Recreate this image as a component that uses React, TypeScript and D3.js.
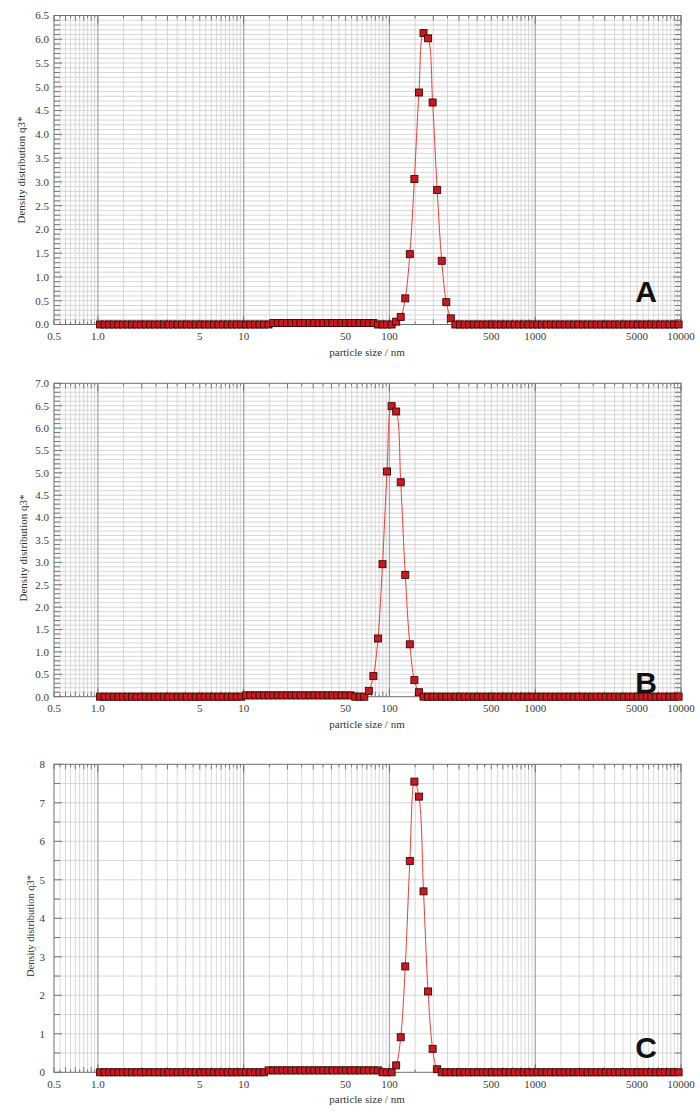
import React from "react";
import * as d3 from "d3";

// Instrument size channels (nm), 32 channels per decade
const SIZE_NM = [
  1.035, 1.112, 1.195, 1.284, 1.38, 1.483, 1.594, 1.713, 1.841, 1.978, 2.125, 2.284, 2.454, 2.638, 2.834, 3.046,
  3.273, 3.517, 3.78, 4.062, 4.365, 4.69, 5.04, 5.416, 5.82, 6.255, 6.721, 7.223, 7.761, 8.34, 8.963, 9.631,
  10.35, 11.12, 11.95, 12.84, 13.8, 14.83, 15.94, 17.13, 18.41, 19.78, 21.25, 22.84, 24.54, 26.38, 28.34, 30.46,
  32.73, 35.17, 37.8, 40.62, 43.65, 46.9, 50.4, 54.16, 58.2, 62.55, 67.21, 72.23, 77.61, 83.4, 89.63, 96.31,
  103.5, 111.2, 119.5, 128.4, 138.0, 148.3, 159.4, 171.3, 184.1, 197.8, 212.5, 228.4, 245.4, 263.8, 283.4, 304.6,
  327.3, 351.7, 378.0, 406.2, 436.5, 469.0, 504.0, 541.6, 582.0, 625.5, 672.1, 722.3, 776.1, 834.0, 896.3, 963.1,
  1035, 1112, 1195, 1284, 1380, 1483, 1594, 1713, 1841, 1978, 2125, 2284, 2454, 2638, 2834, 3046,
  3273, 3517, 3780, 4062, 4365, 4690, 5040, 5416, 5820, 6255, 6721, 7223, 7761, 8340, 8963, 9631,
];

// Density distribution q3* per channel, sample A
const Q3_A = [
  0, 0, 0, 0, 0, 0, 0, 0, 0, 0, 0, 0, 0, 0, 0, 0,
  0, 0, 0, 0, 0, 0, 0, 0, 0, 0, 0, 0, 0, 0, 0, 0,
  0, 0, 0, 0, 0, 0, 0.03, 0.03, 0.03, 0.03, 0.03, 0.03, 0.03, 0.03, 0.03, 0.03,
  0.03, 0.03, 0.03, 0.03, 0.03, 0.03, 0.03, 0.03, 0.03, 0.03, 0.03, 0.03, 0.03, 0, 0, 0,
  0, 0.06, 0.16, 0.55, 1.48, 3.06, 4.88, 6.13, 6.02, 4.67, 2.83, 1.34, 0.47, 0.13, 0, 0,
  0, 0, 0, 0, 0, 0, 0, 0, 0, 0, 0, 0, 0, 0, 0, 0,
  0, 0, 0, 0, 0, 0, 0, 0, 0, 0, 0, 0, 0, 0, 0, 0,
  0, 0, 0, 0, 0, 0, 0, 0, 0, 0, 0, 0, 0, 0, 0, 0,
];

// Sample B
const Q3_B = [
  0, 0, 0, 0, 0, 0, 0, 0, 0, 0, 0, 0, 0, 0, 0, 0,
  0, 0, 0, 0, 0, 0, 0, 0, 0, 0, 0, 0, 0, 0, 0, 0,
  0.03, 0.03, 0.03, 0.03, 0.03, 0.03, 0.03, 0.03, 0.03, 0.03, 0.03, 0.03, 0.03, 0.03, 0.03, 0.03,
  0.03, 0.03, 0.03, 0.03, 0.03, 0.03, 0.03, 0.03, 0, 0, 0, 0.13, 0.46, 1.3, 2.96, 5.03,
  6.49, 6.37, 4.79, 2.72, 1.17, 0.37, 0.1, 0, 0, 0, 0, 0, 0, 0, 0, 0,
  0, 0, 0, 0, 0, 0, 0, 0, 0, 0, 0, 0, 0, 0, 0, 0,
  0, 0, 0, 0, 0, 0, 0, 0, 0, 0, 0, 0, 0, 0, 0, 0,
  0, 0, 0, 0, 0, 0, 0, 0, 0, 0, 0, 0, 0, 0, 0, 0,
];

// Sample C
const Q3_C = [
  0, 0, 0, 0, 0, 0, 0, 0, 0, 0, 0, 0, 0, 0, 0, 0,
  0, 0, 0, 0, 0, 0, 0, 0, 0, 0, 0, 0, 0, 0, 0, 0,
  0, 0, 0, 0, 0, 0.05, 0.05, 0.05, 0.05, 0.05, 0.05, 0.05, 0.05, 0.05, 0.05, 0.05,
  0.05, 0.05, 0.05, 0.05, 0.05, 0.05, 0.05, 0.05, 0.05, 0.05, 0.05, 0.05, 0.05, 0.05, 0, 0,
  0, 0.18, 0.91, 2.75, 5.49, 7.55, 7.16, 4.7, 2.1, 0.61, 0.08, 0, 0, 0, 0, 0,
  0, 0, 0, 0, 0, 0, 0, 0, 0, 0, 0, 0, 0, 0, 0, 0,
  0, 0, 0, 0, 0, 0, 0, 0, 0, 0, 0, 0, 0, 0, 0, 0,
  0, 0, 0, 0, 0, 0, 0, 0, 0, 0, 0, 0, 0, 0, 0, 0,
];

const X_TICK_VALUES = [0.5, 1, 5, 10, 50, 100, 500, 1000, 5000, 10000];
const X_TICK_LABELS = ["0.5", "1.0", "5", "10", "50", "100", "500", "1000", "5000", "10000"];
const GRID_MANTISSAS = [1, 1.5, 2, 2.5, 3, 3.5, 4, 4.5, 5, 5.5, 6, 6.5, 7, 7.5, 8, 8.5, 9, 9.5];
const GRID_DECADES = [0.1, 1, 10, 100, 1000, 10000];

const Y_LABELS_A = ["0.0", "0.5", "1.0", "1.5", "2.0", "2.5", "3.0", "3.5", "4.0", "4.5", "5.0", "5.5", "6.0", "6.5"];
const Y_LABELS_B = ["0.0", "0.5", "1.0", "1.5", "2.0", "2.5", "3.0", "3.5", "4.0", "4.5", "5.0", "5.5", "6.0", "6.5", "7.0"];
const Y_LABELS_C = ["0", "1", "2", "3", "4", "5", "6", "7", "8"];

const X_TITLE = "particle size / nm";
const Y_TITLE = "Density distribution q3*";

const LEFT = 54;
const RIGHT = 681;
const SERIF = "'Liberation Serif', 'Times New Roman', serif";

const PANELS = [
  { letter: "A", top: 15.5, bottom: 324.5, yMax: 6.5, gridStep: 0.1, labelStep: 0.5, yLabels: Y_LABELS_A, values: Q3_A, letterY: 302, titleX: 21, titleY: 170, titleSize: 11, labelRight: 49 },
  { letter: "B", top: 383.3, bottom: 696.7, yMax: 7, gridStep: 0.1, labelStep: 0.5, yLabels: Y_LABELS_B, values: Q3_B, letterY: 693, titleX: 23, titleY: 548, titleSize: 11, labelRight: 49 },
  { letter: "C", top: 764.3, bottom: 1072.3, yMax: 8, gridStep: 0.5, labelStep: 1, yLabels: Y_LABELS_C, values: Q3_C, letterY: 1058, titleX: 30, titleY: 926, titleSize: 10.5, labelRight: 45 },
];

const gridX = GRID_DECADES.flatMap((d) =>
  GRID_MANTISSAS.map((m) => ({ v: +(m * d).toPrecision(4), m }))
).filter((g) => g.v >= 0.5 && g.v <= 10000);

function Panel({ p }) {
  const x = d3.scaleLog().domain([0.5, 10000]).range([LEFT, RIGHT]);
  const y = d3.scaleLinear().domain([0, p.yMax]).range([p.bottom, p.top]);
  const nGrid = Math.round(p.yMax / p.gridStep);
  const gridY = d3.range(nGrid + 1).map((i) => ({
    v: i * p.gridStep,
    major: Math.abs((i * p.gridStep) / p.labelStep - Math.round((i * p.gridStep) / p.labelStep)) < 1e-6,
  }));
  const points = SIZE_NM.map((s, i) => ({ s, v: p.values[i] }));
  const line = d3
    .line()
    .x((d) => x(d.s))
    .y((d) => y(d.v))
    .curve(d3.curveCatmullRom.alpha(0.5));

  const tickLen = (m) => (m === 1 ? 8 : Number.isInteger(m) ? 5 : 3);

  return (
    <g>
      {/* grid */}
      {gridY.map((g, i) =>
        i > 0 && i < nGrid ? (
          <line key={"gy" + i} x1={LEFT} x2={RIGHT} y1={y(g.v)} y2={y(g.v)} stroke="#d2d2d2" strokeWidth={0.9} />
        ) : null
      )}
      {gridX.map((g, i) =>
        g.v > 0.5 && g.v < 10000 ? (
          <line
            key={"gx" + i}
            x1={x(g.v)}
            x2={x(g.v)}
            y1={p.top}
            y2={p.bottom}
            stroke={g.m === 1 ? "#a8a8a8" : "#d2d2d2"}
            strokeWidth={g.m === 1 ? 1.3 : 0.9}
          />
        ) : null
      )}
      {/* ticks on top and bottom */}
      {gridX.map((g, i) => (
        <g key={"tx" + i} stroke="#6a6a6a" strokeWidth={0.9}>
          <line x1={x(g.v)} x2={x(g.v)} y1={p.top} y2={p.top + tickLen(g.m)} />
          <line x1={x(g.v)} x2={x(g.v)} y1={p.bottom} y2={p.bottom - tickLen(g.m)} />
        </g>
      ))}
      {/* ticks on left and right */}
      {gridY.map((g, i) => (
        <g key={"ty" + i} stroke="#6a6a6a" strokeWidth={0.9}>
          <line x1={LEFT} x2={LEFT + (g.major ? 8 : 6)} y1={y(g.v)} y2={y(g.v)} />
          <line x1={RIGHT} x2={RIGHT - (g.major ? 8 : 6)} y1={y(g.v)} y2={y(g.v)} />
        </g>
      ))}
      <rect x={LEFT} y={p.top} width={RIGHT - LEFT} height={p.bottom - p.top} fill="none" stroke="#6e6e6e" strokeWidth={1} />

      {/* fitted curve and measured channels */}
      <path d={line(points)} fill="none" stroke="#e8403a" strokeWidth={1} />
      {points.map((d, i) => (
        <rect
          key={"m" + i}
          x={x(d.s) - 3.5}
          y={y(d.v) - 3.5}
          width={7}
          height={7}
          fill="#c8191e"
          stroke="#3c0808"
          strokeWidth={0.9}
        />
      ))}

      {/* y tick labels */}
      {p.yLabels.map((t, i) => (
        <text
          key={"yl" + i}
          x={p.labelRight}
          y={y(i * p.labelStep)}
          dy="0.35em"
          textAnchor="end"
          fontFamily={SERIF}
          fontSize={11}
          fill="#3a3a3a"
        >
          {t}
        </text>
      ))}
      {/* x tick labels */}
      {X_TICK_VALUES.map((v, i) => (
        <text
          key={"xl" + i}
          x={x(v)}
          y={p.bottom + 15.5}
          textAnchor="middle"
          fontFamily={SERIF}
          fontSize={11}
          fill="#3a3a3a"
        >
          {X_TICK_LABELS[i]}
        </text>
      ))}
      <text x={367} y={p.bottom + 31} textAnchor="middle" fontFamily={SERIF} fontSize={11} fill="#333">
        {X_TITLE}
      </text>
      <text
        transform={`translate(${p.titleX},${p.titleY}) rotate(-90)`}
        textAnchor="middle"
        dy="0.35em"
        fontFamily={SERIF}
        fontSize={p.titleSize}
        fill="#333"
      >
        {Y_TITLE}
      </text>
      <text
        x={646}
        y={p.letterY}
        textAnchor="middle"
        fontFamily="'Liberation Sans', Arial, sans-serif"
        fontWeight="bold"
        fontSize={30}
        fill="#111"
      >
        {p.letter}
      </text>
    </g>
  );
}

export default function App() {
  return (
    <svg
      width={700}
      height={1111}
      viewBox="0 0 700 1111"
      style={{ position: "absolute", left: 0, top: 0, display: "block", background: "#fff" }}
    >
      <rect width={700} height={1111} fill="#fff" />
      {PANELS.map((p) => (
        <Panel key={p.letter} p={p} />
      ))}
    </svg>
  );
}
